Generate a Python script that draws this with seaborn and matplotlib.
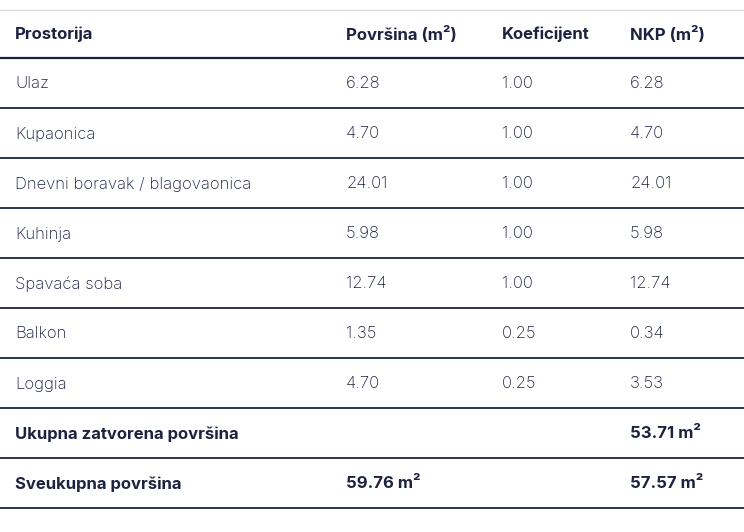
import matplotlib
matplotlib.use("Agg")
import matplotlib.pyplot as plt
import seaborn as sns

headers = ["Prostorija", "Površina (m²)", "Koeficijent", "NKP (m²)"]
rooms = ["Ulaz", "Kupaonica", "Dnevni boravak / blagovaonica", "Kuhinja",
         "Spavaća soba", "Balkon", "Loggia"]
areas = ["6.28", "4.70", "24.01", "5.98", "12.74", "1.35", "4.70"]
coefs = ["1.00", "1.00", "1.00", "1.00", "1.00", "0.25", "0.25"]
nkp = ["6.28", "4.70", "24.01", "5.98", "12.74", "0.34", "3.53"]
totals = [["Ukupna zatvorena površina", "", "", "53.71 m²"],
          ["Sveukupna površina", "59.76 m²", "", "57.57 m²"]]

sns.set_theme(style="white")
plt.rcParams['font.family'] = ['Inter', 'Open Sans', 'DejaVu Sans']
fig = plt.figure(figsize=(7.44, 5.32), dpi=100)
ax = fig.add_axes([0, 0, 1, 1])
ax.set_xlim(0, 744)
ax.set_ylim(532, 0)
ax.axis("off")

col_x = [15, 346, 502, 630]
txt = "#1c2340"
row_h = 50
y0 = 34
fs = 12

ax.axhline(10, color="#dddddd", lw=1)
for j, h in enumerate(headers):
    ax.text(col_x[j], y0, h, va="center", ha="left", fontsize=fs,
            fontweight="bold", color=txt)
ax.axhline(58, color=txt, lw=1.6)

rows = [[r, a, c, n] for r, a, c, n in zip(rooms, areas, coefs, nkp)]
for i, row in enumerate(rows):
    y = y0 + row_h * (i + 1)
    for j, v in enumerate(row):
        ax.text(col_x[j], y, v, va="center", ha="left", fontsize=fs,
                fontweight="light", color=txt)
    ax.axhline(y0 - 1 + row_h * (i + 1) + 25, color=txt, lw=1.3)

for k, row in enumerate(totals):
    y = y0 + row_h * (len(rows) + 1 + k)
    for j, v in enumerate(row):
        ax.text(col_x[j], y, v, va="center", ha="left", fontsize=fs,
                fontweight="bold", color=txt)
    ax.axhline(y - 1 + 25, color=txt, lw=1.3)

fig.savefig("out.png", dpi=100, facecolor="white")
